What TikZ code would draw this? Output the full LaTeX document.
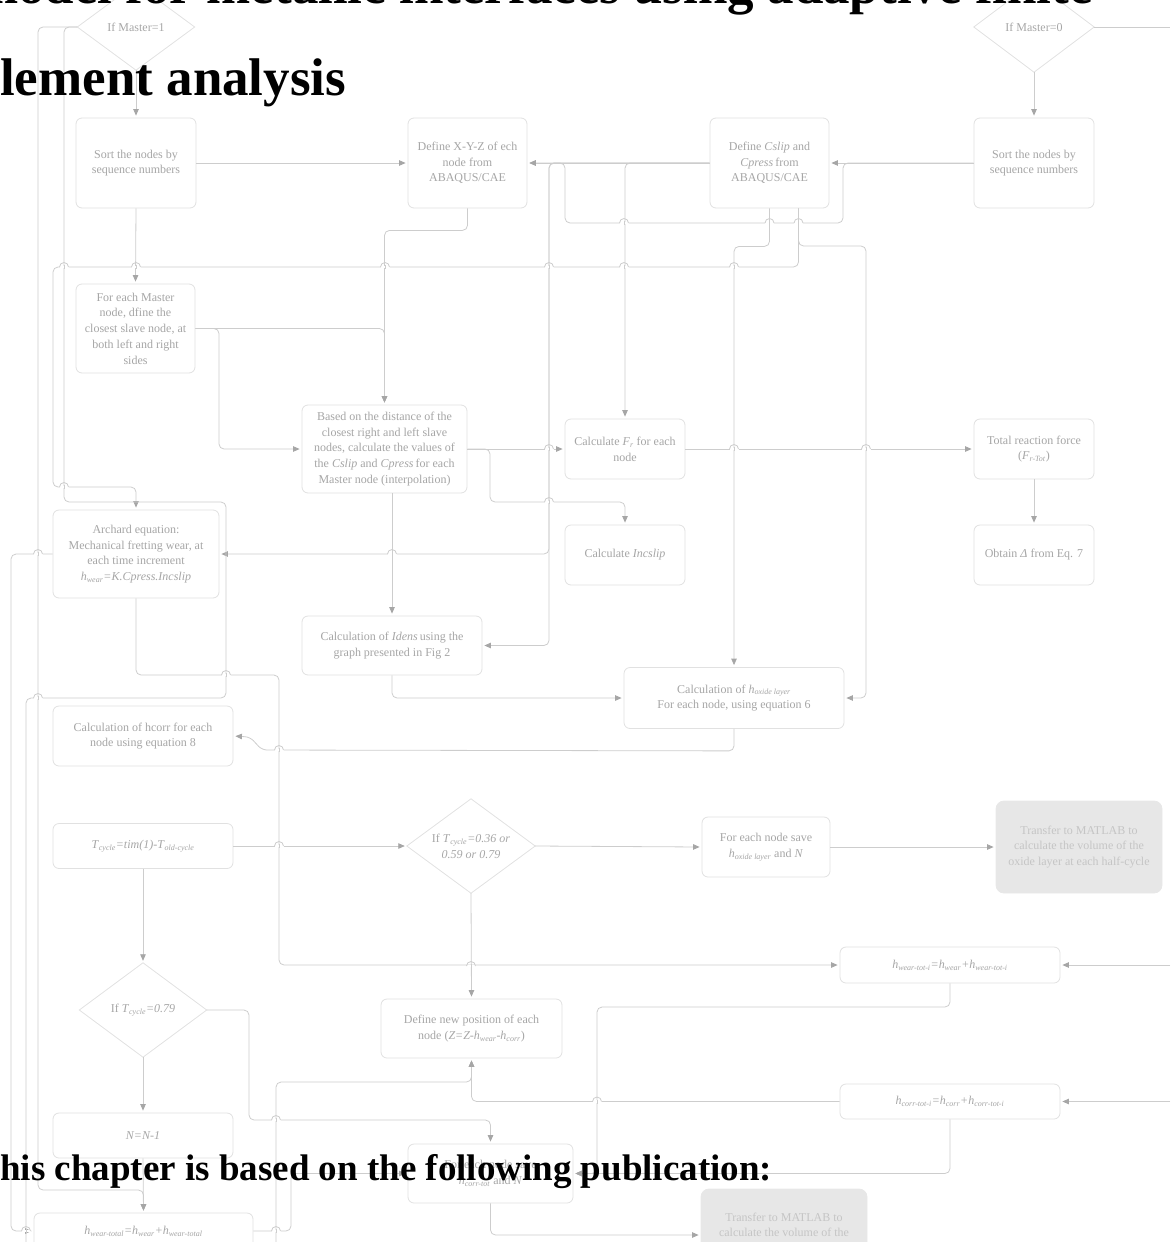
\documentclass[tikz,border=0pt]{standalone}
\usepackage{fontspec}
\setmainfont{Liberation Serif}
\usepackage{xcolor}
\usetikzlibrary{arrows.meta}

\definecolor{boxline}{HTML}{E1E1E1}
\definecolor{txtgray}{HTML}{A6A6A6}
\definecolor{linegray}{HTML}{CDCDCD}
\definecolor{tipgray}{HTML}{A6A6A6}
\definecolor{matfill}{HTML}{E7E7E7}

\newcommand{\boxfont}{\fontsize{12}{15.7}\selectfont}
\newcommand{\vsub}[2]{\textit{#1}\textsubscript{\textit{#2}}}
% small bump where a horizontal line jumps over a vertical one
\newcommand{\linehop}[2]{%
  \fill[white] (#1-4.5,#2-1.3) rectangle (#1+4.5,#2+1.3);
  \draw[conn] (#1-4.5,#2) arc[start angle=180,end angle=0,radius=4.5pt];
  \draw[conn] (#1,#2-2) -- (#1,#2+2);}

\tikzset{
  box/.style={draw=boxline, line width=0.8pt, rounded corners=6pt, fill=white,
    text=txtgray, align=center, font=\boxfont, inner sep=1pt},
  matbox/.style={box, draw=matfill, fill=matfill, text=txtgray!65, rounded corners=8pt},
  dec/.style={align=center, text=txtgray, font=\boxfont, inner sep=0pt},
  decline/.style={draw=boxline, line width=0.8pt},
  conn/.style={draw=linegray, line width=0.8pt, rounded corners=5pt},
  arr/.style={conn, shorten >=2pt, -{Triangle[length=6.5pt,width=5.5pt,color=tipgray]}},
  heading/.style={text=black, inner sep=0pt}
}

\begin{document}
\begin{tikzpicture}[x=1pt,y=-1pt]
\useasboundingbox (0,0) rectangle (1170,1242);
\clip (0,0) rectangle (1170,1242);

% decisions
\node[dec, minimum width=117pt, minimum height=86pt] (m1) at (136,27) {If Master=1};
\node[dec, minimum width=120pt, minimum height=90pt] (m0) at (1034,27) {If Master=0};
\node[dec, minimum width=128pt, minimum height=94pt] (dTc) at (471,846) {If \vsub{T}{cycle}\textit{=0.36 or}\\\textit{0.59 or 0.79}};
\node[dec, minimum width=127pt, minimum height=94pt] (dT79) at (143,1010) {If \vsub{T}{cycle}\textit{=0.79}};
\foreach \d in {m1,m0,dTc,dT79}
  \draw[decline] (\d.north) -- (\d.east) -- (\d.south) -- (\d.west) -- cycle;

% first row
\node[box, minimum width=120pt, minimum height=90pt] (sortL) at (136,163) {Sort the nodes by\\sequence numbers};
\node[box, minimum width=119pt, minimum height=90pt] (defXYZ) at (467.5,163) {Define X-Y-Z of ech\\node from\\ABAQUS/CAE};
\node[box, minimum width=119pt, minimum height=90pt] (defC) at (769.5,163) {Define \textit{Cslip} and\\\textit{Cpress}\,from\\ABAQUS/CAE};
\node[box, minimum width=120pt, minimum height=90pt] (sortR) at (1034,163) {Sort the nodes by\\sequence numbers};

% interpolation part
\node[box, minimum width=119pt, minimum height=89pt] (forEach) at (135.5,328.5) {For each Master\\node, dfine the\\closest slave node, at\\both left and right\\sides};
\node[box, minimum width=165pt, minimum height=88pt] (based) at (384.5,449) {Based on the distance of the\\closest right and left slave\\nodes, calculate the values of\\the \textit{Cslip} and \textit{Cpress}\,for each\\Master node (interpolation)};
\node[box, minimum width=120pt, minimum height=60pt] (calcF) at (625,449) {Calculate \vsub{F}{r} for each\\node};
\node[box, minimum width=120pt, minimum height=60pt] (inc) at (625,555) {Calculate \textit{Incslip}};
\node[box, minimum width=120pt, minimum height=60pt] (total) at (1034,449) {Total reaction force\\(\vsub{F}{r-Tot})};
\node[box, minimum width=120pt, minimum height=60pt] (obtain) at (1034,555) {Obtain \textit{Δ} from Eq. 7};
\node[box, minimum width=166pt, minimum height=88pt] (archard) at (136,554) {Archard equation:\\Mechanical fretting wear, at\\each time increment\\\vsub{h}{wear}\textit{=K.Cpress.Incslip}};
\node[box, minimum width=180pt, minimum height=59pt] (idens) at (392,645.5) {Calculation of \textit{Idens}\,using the\\graph presented in Fig 2};
\node[box, minimum width=220pt, minimum height=61pt] (oxide) at (734,698) {Calculation of \vsub{h}{oxide layer}\\For each node, using equation 6};
\node[box, minimum width=180pt, minimum height=60pt] (hcorr) at (143,736) {Calculation of hcorr for each\\node using equation 8};

% cycle part
\node[box, minimum width=180pt, minimum height=45pt] (tcycle) at (143,846) {\vsub{T}{cycle}\textit{=tim(1)-}\vsub{T}{old-cycle}};
\node[box, minimum width=128pt, minimum height=60pt] (save) at (766,847) {For each node save\\\vsub{h}{oxide layer} and \textit{N}};
\node[matbox, minimum width=166pt, minimum height=92pt] (matlab1) at (1079,847) {Transfer to MATLAB to\\calculate the volume of the\\oxide layer at each half-cycle};
\node[box, minimum width=220pt, minimum height=36pt] (hwtot) at (950,965) {\vsub{h}{wear-tot-i}\textit{=}\vsub{h}{wear}\textit{+}\vsub{h}{wear-tot-i}};
\node[box, minimum width=220pt, minimum height=35pt] (hctot) at (950,1101.5) {\vsub{h}{corr-tot-i}\textit{=}\vsub{h}{corr}\textit{+}\vsub{h}{corr-tot-i}};
\node[box, minimum width=181pt, minimum height=59pt] (newpos) at (471.5,1028.5) {Define new position of each\\node (\textit{Z=Z-}\vsub{h}{wear}\textit{-}\vsub{h}{corr})};
\node[box, minimum width=180pt, minimum height=45pt] (nn) at (143,1135.5) {\textit{N=N-1}};
\node[box, minimum width=165pt, minimum height=59pt] (fec) at (490.5,1173.5) {For each node save\\\vsub{h}{corr-tot} and \textit{N}};
\node[matbox, minimum width=166pt, minimum height=92pt] (matlab2) at (784,1235) {Transfer to MATLAB to\\calculate the volume of the\\\strut};
\node[box, minimum width=219pt, minimum height=36pt] (hwtot2) at (143.5,1231) {\vsub{h}{wear-total}\textit{=}\vsub{h}{wear}\textit{+}\vsub{h}{wear-total}};

% connectors, top
\draw[arr] (m1.south) -- (sortL.north);
\draw[arr] (m0.south) -- (sortR.north);
\draw[conn] (m0.east) -- (1170,27);
\draw[arr] (sortL.east) -- (defXYZ.west);
\draw[arr] (sortR.west) -- (defC.east);
\draw[arr] (sortR.west) -- (843,163) -- (843,223) -- (565,223) -- (565,163) -- (defXYZ.east);
\draw[arr] (defC.west) -- (defXYZ.east);
\draw[arr] (defC.west) -| (calcF.north);
\draw[arr] (defC.west) -- (549,163) |- (archard.east);
\draw[arr] (defC.west) -- (549,163) |- (idens.east);
\draw[arr] (defC.south) -- ++(0,38) -| (oxide.north);
\draw[arr] ([xshift=29pt]defC.south) |- (866,246) |- (oxide.east);
\draw[arr] ([xshift=29pt]defC.south) |- (53,267) -- (53,487) -| (archard.north);
\draw[arr] (defXYZ.south) -- ++(0,22) -| (based.north);
\draw[arr] (sortL.south) -- (forEach.north);
\draw[arr] (forEach.east) -| (based.north);
\draw[arr] (forEach.east) -- (219,328.5) |- (based.west);

% connectors, middle
\draw[arr] (based.east) -- (calcF.west);
\draw[arr] (based.east) -- (490,449) -- (490,502) -| (inc.north);
\draw[arr] (idens.north |- based.south) -- (idens.north);
\draw[arr] (calcF.east) -- (total.west);
\draw[arr] (total.south) -- (obtain.north);
\draw[arr] (idens.south) |- (oxide.west);
\draw[arr] (oxide.south) -- ++(0,22) -- (262,750) -- (250,737) -- (hcorr.east);
\draw[arr] (archard.south) |- (279,675) |- (hwtot.west);

% loops down the left side
\draw[arr] (m1.west) -- (38,27) -- (38,1190) -| (hwtot2.north);
\draw[conn] (m1.west) -- (64,27) -- (64,502) -- (226,502) -- (226,698) -- (26,698) -- (26,1242);
\draw[arr] (archard.west) -- (11,554) |- (hwtot2.west);

% connectors, bottom
\draw[arr] (tcycle.south) -- (dT79.north);
\draw[arr] (tcycle.east) -- (dTc.west);
\draw[arr] (dTc.east) -- (save.west);
\draw[arr] (save.east) -- (matlab1.west);
\draw[arr] (dTc.south) -- (newpos.north);
\draw[arr] (dT79.south) -- (nn.north);
\draw[arr] (dT79.east) -- (249,1010) -- (249,1120) -| (fec.north);
\draw[arr] (nn.south) -- (hwtot2.north);
\draw[arr] (hwtot.south) |- (597,1007) |- (fec.east);
\draw[arr] (hctot.south) |- (fec.east);
\draw[arr] (hctot.west) -| (newpos.south);
\draw[arr] (276,1242) -- (276,1082) -| (newpos.south);
\draw[arr] (hwtot2.east) -- (291,1231) |- (fec.west);
\draw[arr] (fec.south) |- (matlab2.west);
\draw[arr] (1170,965) -- (hwtot.east);
\draw[arr] (1170,1101.5) -- (hctot.east);

% line jumps
\foreach \hx/\hy in {64/267,136/267,385/267,549/267,624/267,734/267,
    624/223,769.5/223,798.5/223,64/487,549/502,549/449,734/449,866/449,
    392/554,38/554,226/675,38/698,279/750,279/846,471/966,597/1101.5,
    276/1120,276/1231,26/1231}
  \linehop{\hx}{\hy};

% page text lying over the chart
\node[heading, anchor=base east, font=\fontsize{53}{53}\selectfont\bfseries] (head1) at (1093,4) {model for metallic interfaces using adaptive finite};
\node[heading, anchor=base west, font=\fontsize{53}{53}\selectfont\bfseries] (head2) at (0,95) {lement analysis};
\node[heading, anchor=base west, font=\fontsize{37}{37}\selectfont\bfseries] (chapnote) at (0,1180) {his chapter is based on the following publication:};
\end{tikzpicture}
\end{document}
